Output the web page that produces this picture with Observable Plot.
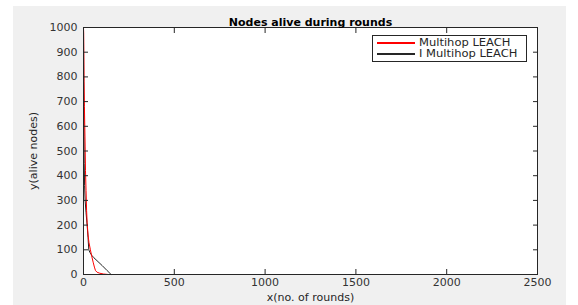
<!DOCTYPE html>
<html>
<head>
<meta charset="utf-8">
<script src="https://cdn.jsdelivr.net/npm/d3@7"></script>
<script src="https://cdn.jsdelivr.net/npm/@observablehq/plot@0.6"></script>
<style>
  html, body { margin: 0; padding: 0; background: #ffffff; }
  #wrap { position: relative; width: 578px; height: 305px; overflow: hidden; font-family: "DejaVu Sans", sans-serif; }
  #bg { position: absolute; left: 13px; top: 6px; width: 553px; height: 299px; background: #f0f0f0; }
  #chart { position: absolute; left: 0; top: 0; }
  #legend { position: absolute; left: 372px; top: 35px; width: 153px; height: 25px; background: #fff; border: 1px solid #262626; font-size: 10px; color: #262626; }
  .row { position: absolute; left: 4px; width: 145px; height: 11px; }
  .sw { position: absolute; left: 0; top: 5px; width: 38px; height: 1.5px; }
  .lbl { position: absolute; left: 42px; top: 0; line-height: 11px; white-space: nowrap; transform: scaleX(1.15); transform-origin: left center; }
</style>
</head>
<body>
<div id="wrap">
  <div id="bg"></div>
  <div id="chart"></div>
  <div id="legend"></div>
</div>
<script>
const title = "Nodes alive during rounds";
const xLabel = "x(no. of rounds)";
const yLabel = "y(alive nodes)";
const xTicks = [0, 500, 1000, 1500, 2000, 2500];
const yTicks = [0, 100, 200, 300, 400, 500, 600, 700, 800, 900, 1000];
const seriesNames = ["Multihop LEACH", "I Multihop LEACH"];
const seriesColors = ["#ff0000", "#262626"];

const multihopRounds = [0, 1, 2, 3, 5, 7, 9, 11, 14, 17, 20, 25, 30, 38, 45, 53, 60, 66, 75, 90, 110, 137, 200, 2500];
const multihopAlive  = [1000, 980, 880, 780, 680, 600, 520, 420, 340, 260, 210, 160, 130, 100, 75, 50, 30, 16, 9, 5, 2, 0, 0, 0];

const iMultihopRounds = [0, 1, 2, 3, 4, 6, 9, 14, 20, 25, 29, 35, 45, 57, 80, 103, 130, 152, 200, 2500];
const iMultihopAlive  = [1000, 850, 700, 560, 450, 360, 300, 250, 200, 150, 100, 90, 78, 68, 52, 36, 16, 0, 0, 0];

const series = [
  {name: seriesNames[0], rounds: multihopRounds, alive: multihopAlive},
  {name: seriesNames[1], rounds: iMultihopRounds, alive: iMultihopAlive}
];
const data = series.flatMap(s => s.rounds.map((r, i) => ({series: s.name, x: r, y: s.alive[i]})));

const font = "DejaVu Sans, sans-serif";
const ink = "#262626";
const fmt = d3.format("d");

const plot = Plot.plot({
  width: 578,
  height: 305,
  marginLeft: 83,
  marginRight: 41,
  marginTop: 27,
  marginBottom: 31,
  style: {background: "transparent", fontFamily: font, fontSize: "11px", color: ink},
  x: {domain: [0, 2500], ticks: xTicks},
  y: {domain: [0, 1000], ticks: yTicks},
  color: {domain: seriesNames, range: seriesColors},
  marks: [
    Plot.frame({fill: "white", stroke: "none"}),
    Plot.line(data.filter(d => d.series === seriesNames[1]), {x: "x", y: "y", stroke: "series", strokeWidth: 1}),
    Plot.line(data.filter(d => d.series === seriesNames[0]), {x: "x", y: "y", stroke: "series", strokeWidth: 1}),
    Plot.frame({stroke: ink, strokeWidth: 1}),
    Plot.axisX(xTicks, {anchor: "bottom", tickSize: -5, fill: "none", stroke: ink, label: null}),
    Plot.axisX(xTicks, {anchor: "top", tickSize: -5, fill: "none", stroke: ink, label: null}),
    Plot.axisY(yTicks, {anchor: "left", tickSize: -5, fill: "none", stroke: ink, label: null}),
    Plot.axisY(yTicks, {anchor: "right", tickSize: -5, fill: "none", stroke: ink, label: null}),
    Plot.axisX(xTicks, {anchor: "bottom", tickSize: 0, tickPadding: 4, fill: "#333", fontSize: 11, tickFormat: fmt, label: null}),
    Plot.axisY(yTicks, {anchor: "left", tickSize: 0, tickPadding: 6, fill: "#333", fontSize: 11, tickFormat: fmt, label: null}),
    Plot.text([xLabel], {frameAnchor: "bottom", lineAnchor: "bottom", dy: 26, fontSize: 11, fill: ink}),
    Plot.text([yLabel], {frameAnchor: "left", textAnchor: "middle", dx: -50, rotate: -90, fontSize: 11, fill: ink}),
    Plot.text([title], {frameAnchor: "top", dy: -9, fontWeight: "bold", fontSize: 11, fill: "#000"})
  ]
});
document.getElementById("chart").appendChild(plot);

const legend = document.getElementById("legend");
seriesNames.forEach((n, i) => {
  const row = document.createElement("div");
  row.className = "row";
  row.style.top = (1 + i * 11) + "px";
  const sw = document.createElement("div");
  sw.className = "sw";
  sw.style.backgroundColor = seriesColors[i];
  row.appendChild(sw);
  const t = document.createElement("div");
  t.className = "lbl";
  t.textContent = n;
  row.appendChild(t);
  legend.appendChild(row);
});
</script>
</body>
</html>
